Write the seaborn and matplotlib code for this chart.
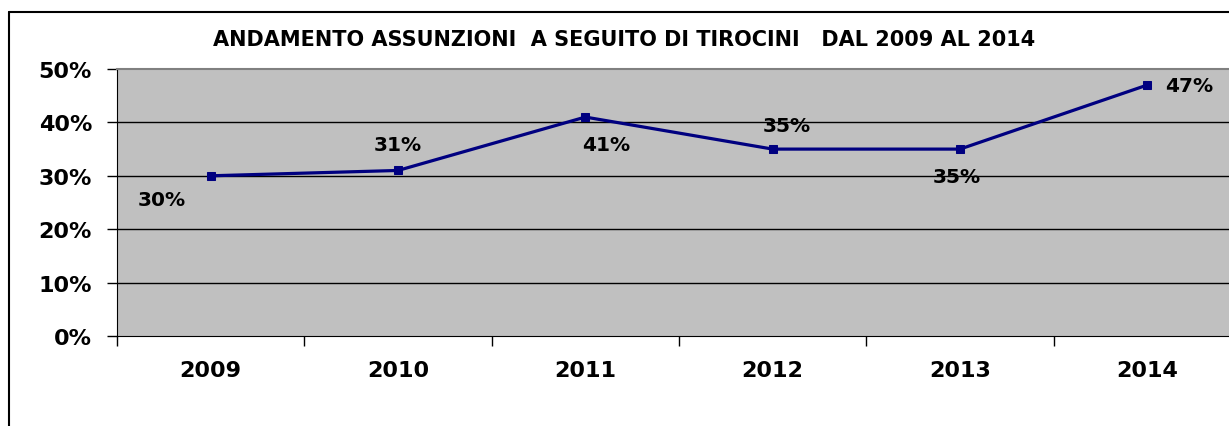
import pandas as pd
import seaborn as sns
import matplotlib.pyplot as plt
from matplotlib.lines import Line2D
from matplotlib.ticker import FixedLocator

# dati
anni = ["2009", "2010", "2011", "2012", "2013", "2014"]
percentuali = [30, 31, 41, 35, 35, 47]
# posizione etichette (dx, dy in punti) rispetto al punto
offset_etichette = [(-35, -17), (0, 19), (15, -20), (10, 17), (-2, -20), (30, 0)]

df = pd.DataFrame({"anno": range(len(anni)), "valore": percentuali})

sns.set_style("white")
plt.rcParams['font.family'] = ['DejaVu Sans']
plt.rcParams['text.color'] = "black"
plt.rcParams['xtick.color'] = "black"
plt.rcParams['ytick.color'] = "black"
plt.rcParams['xtick.labelcolor'] = "black"
plt.rcParams['ytick.labelcolor'] = "black"

fig = plt.figure(figsize=(12.29, 4.27), dpi=100)
ax = fig.add_axes([117 / 1229, 90 / 427, 1124 / 1229, 267 / 427])
ax.set_facecolor("#C0C0C0")

sns.lineplot(data=df, x="anno", y="valore", ax=ax, color="#000080",
             linewidth=2.3, marker="s", markersize=6, markeredgecolor="#000080", zorder=3)

ax.set_xlim(-0.5, 5.5)
ax.set_ylim(0, 50)
ax.set_yticks(range(0, 51, 10))
ax.set_yticklabels([f"{v}%" for v in range(0, 51, 10)], fontsize=16, fontweight="bold")
ax.set_xticks(range(len(anni)))
ax.set_xticklabels(anni, fontsize=16, fontweight="bold")
ax.tick_params(axis="x", which="major", length=0, pad=17, bottom=True)
ax.xaxis.set_minor_locator(FixedLocator([i - 0.5 for i in range(len(anni) + 1)]))
ax.tick_params(axis="x", which="minor", length=7, width=1, color="black",
               direction="out", bottom=True)
ax.tick_params(axis="y", which="major", length=7, width=1, color="black",
               direction="out", pad=11, left=True)
ax.set_xlabel("")
ax.set_ylabel("")

for v in range(10, 50, 10):
    ax.axhline(v, color="black", linewidth=1, zorder=1)

ax.spines["left"].set_color("black")
ax.spines["bottom"].set_color("black")
ax.spines["top"].set_color("#808080")
ax.spines["top"].set_linewidth(1.5)
ax.spines["right"].set_visible(False)

for i, (v, off) in enumerate(zip(percentuali, offset_etichette)):
    ax.annotate(f"{v}%", (i, v), xytext=off, textcoords="offset points",
                ha="center", va="center", fontsize=14.5, fontweight="bold")

fig.text(624 / 1229, 1 - 40 / 427, "ANDAMENTO ASSUNZIONI  A SEGUITO DI TIROCINI   DAL 2009 AL 2014",
         ha="center", va="center", fontsize=15, fontweight="bold")

# cornice del grafico
fig.add_artist(Line2D([8.5 / 1229, 8.5 / 1229], [0, 1 - 12.5 / 427], color="black", linewidth=1.5))
fig.add_artist(Line2D([8.5 / 1229, 1], [1 - 12.5 / 427, 1 - 12.5 / 427], color="black", linewidth=1.5))

fig.savefig("out.png", dpi=100)
